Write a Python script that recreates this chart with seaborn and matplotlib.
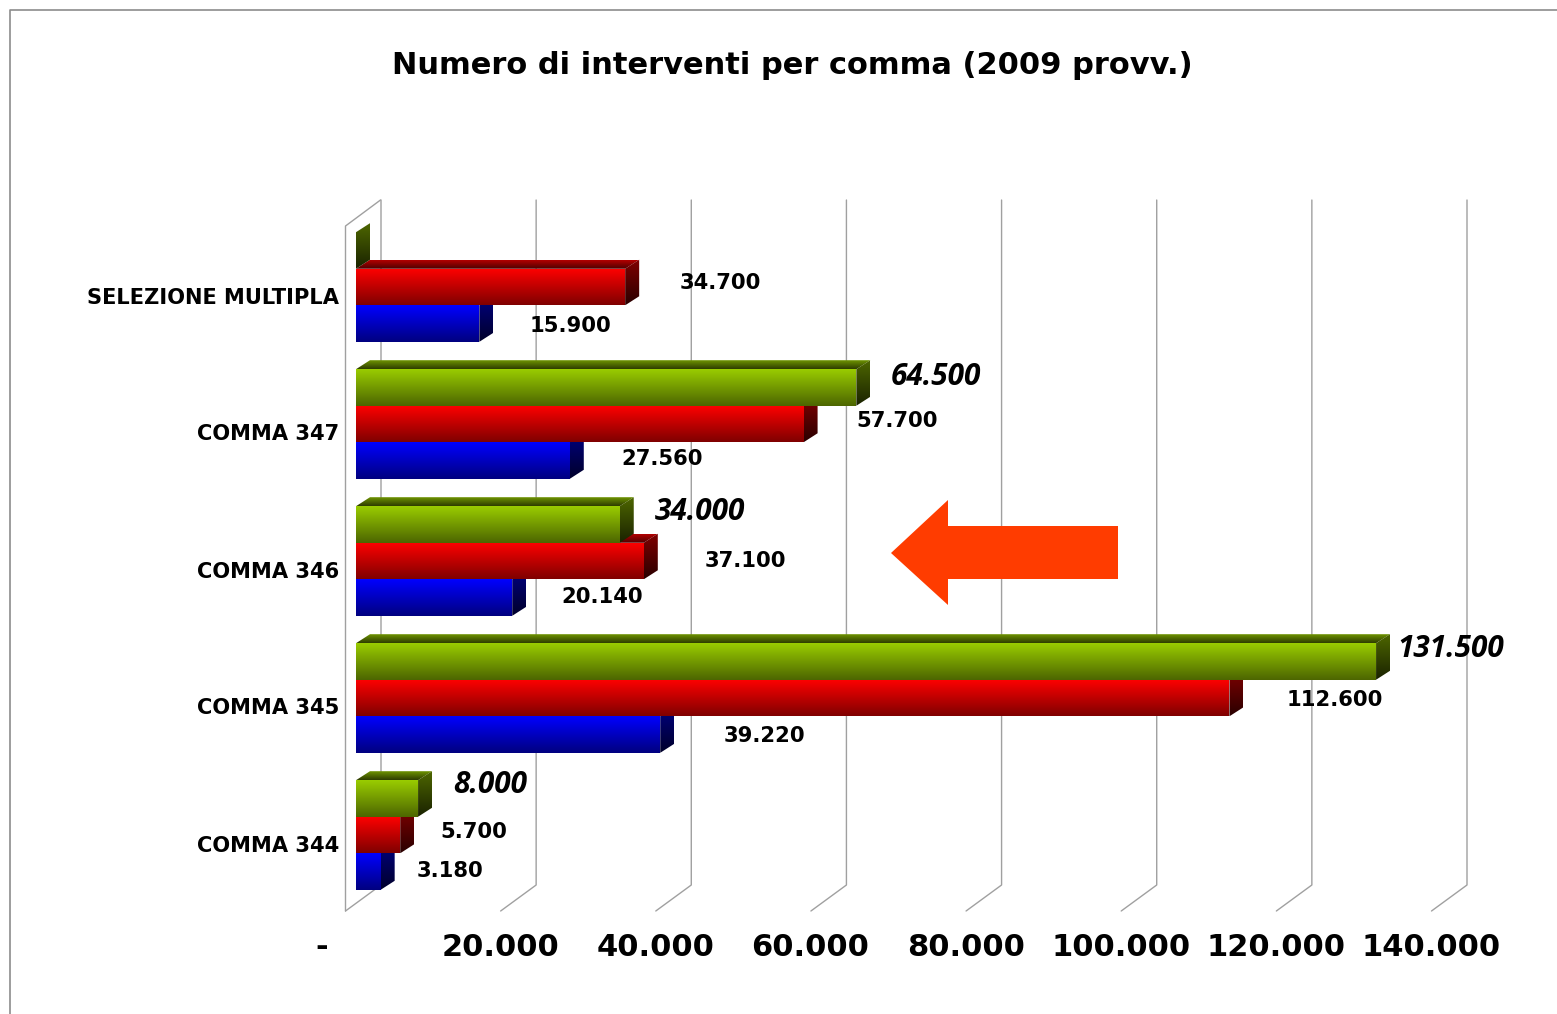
import numpy as np
import pandas as pd
import matplotlib
matplotlib.use('Agg')
import matplotlib.pyplot as plt
import seaborn as sns
from matplotlib.colors import LinearSegmentedColormap
from matplotlib.lines import Line2D
from matplotlib.patches import Polygon
from matplotlib.transforms import ScaledTranslation

categorie = ['SELEZIONE MULTIPLA', 'COMMA 347', 'COMMA 346', 'COMMA 345', 'COMMA 344']
serie = ['verde', 'rosso', 'blu']
valori_verde = [0, 64500, 34000, 131500, 8000]
valori_rosso = [34700, 57700, 37100, 112600, 5700]
valori_blu = [15900, 27560, 20140, 39220, 3180]
tick_valori = [0, 20000, 40000, 60000, 80000, 100000, 120000, 140000]
tick_label = ['-', '20.000', '40.000', '60.000', '80.000', '100.000', '120.000', '140.000']
titolo = 'Numero di interventi per comma (2009 provv.)'

W, H = 1557, 1014
sns.set_style('white')
plt.rcParams['font.family'] = ['DejaVu Sans']

fig = plt.figure(figsize=(W / 100, H / 100), dpi=100)
# pixel area of the bar plane: x 356-1442, y 218.5-903.5
ax = fig.add_axes([356 / W, 1 - 903.5 / H, (1442 - 356) / W, 685 / H])

df = pd.DataFrame({
    'categoria': categorie * 3,
    'serie': np.repeat(serie, len(categorie)),
    'valore': valori_verde + valori_rosso + valori_blu,
})
sns.barplot(data=df, x='valore', y='categoria', hue='serie', order=categorie, hue_order=serie,
            palette=['#99cc00', '#ff0000', '#0000ff'], saturation=1, width=0.8, orient='h',
            legend=False, ax=ax)
ax.set_xlim(0, 140000)
ax.set_ylim(4.5, -0.5)
ux = 140000 / (1442 - 356)  # data per pixel
uy = 1 / 137


def px_y(p):
    return (p - 287) * uy


# back wall and grid lines
griglia = dict(color='#a0a0a0', lw=1.0, clip_on=False, zorder=1)
for t in tick_valori:
    xb = t + 25 * ux
    xf = t - 10.5 * ux
    ax.plot([xb, xb, xf], [px_y(200), px_y(885), px_y(911)], **griglia)
ax.plot([24.5 * ux, -10.5 * ux, -10.5 * ux], [px_y(200), px_y(226), px_y(911)], **griglia)


def sfuma(verts, col_top, col_bot, z):
    poly = Polygon(verts, closed=True, transform=ax.transData, fc='none', ec='none')
    ys = [v[1] for v in verts]
    xs = [v[0] for v in verts]
    cm = LinearSegmentedColormap.from_list('g', [col_top, col_bot])
    im = ax.imshow(np.linspace(0, 1, 64)[:, None], cmap=cm, aspect='auto', zorder=z,
                   extent=[min(xs), max(xs), max(ys), min(ys)], interpolation='bilinear')
    im.set_clip_path(poly)


colori = {
    'verde': dict(front=('#99cc00', '#4d6600'), side=('#4d6600', '#1a2200'), top=('#6f9400', '#2e3d00')),
    'rosso': dict(front=('#ff0000', '#800000'), side=('#800000', '#2a0000'), top=('#b30000', '#4d0000')),
    'blu': dict(front=('#0000ff', '#000080'), side=('#000080', '#00002a'), top=('#0000b3', '#00004d')),
}
dx3 = 14 * ux
dy3 = 9 * uy
livello = {'verde': 3.3, 'rosso': 3.2, 'blu': 3.1}
for nome, cont in zip(serie, ax.containers):
    c = colori[nome]
    zz = livello[nome]
    for r in cont:
        x1 = r.get_width()
        y0 = r.get_y()
        y1 = y0 + r.get_height()
        sfuma([(0, y0), (dx3, y0 - dy3), (x1 + dx3, y0 - dy3), (x1, y0)], c['top'][0], c['top'][1], zz)
        sfuma([(x1, y0), (x1 + dx3, y0 - dy3), (x1 + dx3, y1 - dy3), (x1, y1)], c['side'][0], c['side'][1], zz + 0.01)
        if x1 > 0:
            sfuma([(0, y0), (x1, y0), (x1, y1), (0, y1)], c['front'][0], c['front'][1], 4)
        r.set_visible(False)
ax.set_xlim(0, 140000)
ax.set_ylim(4.5, -0.5)

# data labels, offsets in pixels from the bar end
off_verde = [None, (34, -10), (35, -12), (21, -12), (35, -13)]
off_rosso = [(54, -4), (53, -3), (61, 0), (57, 2), (40, -3)]
off_blu = [(50, 2), (52, -2), (49, -1), (63, 1), (36, -1)]
offsets = [off_verde, off_rosso, off_blu]
for cont, off, nome in zip(ax.containers, offsets, serie):
    for r, o in zip(cont, off):
        if o is None:
            continue
        v = int(r.get_width())
        s = f'{v:,}'.replace(',', '.')
        yc = r.get_y() + r.get_height() / 2
        if nome == 'verde':
            ax.annotate(s, (v, yc), xytext=(o[0], -o[1]), textcoords='offset pixels', va='center', ha='left',
                        fontsize=21.4, fontweight='bold', fontstyle='italic', family='Open Sans', color='black',
                        annotation_clip=False, zorder=6)
        else:
            ax.annotate(s, (v, yc), xytext=(o[0], -o[1]), textcoords='offset pixels', va='center', ha='left',
                        fontsize=15.2, fontweight='bold', color='black', annotation_clip=False, zorder=6)

ax.set_xlabel('')
ax.set_ylabel('')
ax.set_xticks(tick_valori)
ax.set_xticklabels(tick_label, fontsize=22, fontweight='bold', color='black')
ax.tick_params(axis='both', length=0)
ax.tick_params(axis='x', pad=21)
ax.set_yticks(range(len(categorie)))
ax.set_yticklabels(categorie, fontsize=15.1, fontweight='bold', color='black')
ax.tick_params(axis='y', pad=12)
for lab in ax.get_yticklabels():
    lab.set_transform(lab.get_transform() + ScaledTranslation(0, -8.5 / 100, fig.dpi_scale_trans))
for lab, t in zip(ax.get_xticklabels(), tick_valori):
    dx = -34 if t == 0 else -11
    lab.set_transform(lab.get_transform() + ScaledTranslation(dx / 100, 0, fig.dpi_scale_trans))
for sp in ax.spines.values():
    sp.set_visible(False)
ax.patch.set_alpha(0)

fig.text(792 / W, 1 - 65 / H, titolo, ha='center', va='center', fontsize=22, fontweight='bold', color='black')

# block arrow
freccia = [(891, 553), (948, 500), (948, 526), (1118, 526), (1118, 579), (948, 579), (948, 605)]
fig.add_artist(Polygon([(x / W, 1 - y / H) for x, y in freccia], closed=True, fc='#ff3c00', ec='none',
                       transform=fig.transFigure))
# chart frame
fig.add_artist(Line2D([10 / W, 10 / W, 1], [0, 1 - 10 / H, 1 - 10 / H], color='#8c8c8c', lw=1.2,
                      transform=fig.transFigure))

fig.savefig('out.png', dpi=100)
